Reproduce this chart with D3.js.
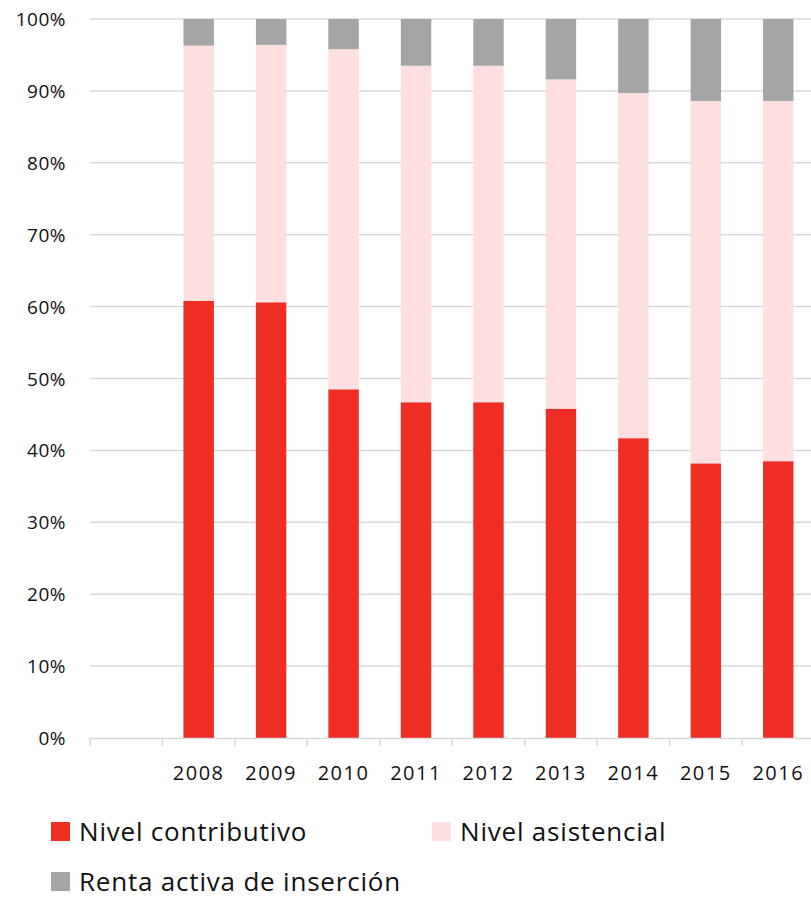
<!DOCTYPE html>
<html>
<head>
<meta charset="utf-8">
<script src="https://cdn.jsdelivr.net/npm/d3@7"></script>
<style>
  body { margin: 0; background: #fff; }
  svg { display: block; font-family: "Open Sans", "Noto Sans", sans-serif; }
</style>
</head>
<body>
<script>
// data
let years = ["", "2008", "2009", "2010", "2011", "2012", "2013", "2014", "2015", "2016"];
let contributivo = [null, 60.8, 60.6, 48.5, 46.7, 46.7, 45.8, 41.7, 38.2, 38.5];
let asistencial = [null, 35.5, 35.8, 47.3, 46.8, 46.8, 45.8, 48.0, 50.4, 50.1];
let renta = [null, 3.7, 3.6, 4.2, 6.5, 6.5, 8.4, 10.3, 11.4, 11.4];
let seriesNames = ["Nivel contributivo", "Nivel asistencial", "Renta activa de inserción"];
let yTicks = [0, 10, 20, 30, 40, 50, 60, 70, 80, 90, 100];

let colors = ["#ee2e24", "#ffdfe0", "#a5a5a5"];

let svg = d3.select("body").append("svg")
    .attr("width", 811)
    .attr("height", 899);

let x = d3.scaleBand()
    .domain(years)
    .range([90, 814.5])
    .paddingInner(0.58)
    .paddingOuter(0.29);

let y = d3.scaleLinear()
    .domain([0, 100])
    .range([738, 19]);

// gridlines
svg.append("g")
    .selectAll("line")
    .data(yTicks.slice(1))
    .join("line")
    .attr("x1", 90)
    .attr("x2", 811)
    .attr("y1", d => y(d))
    .attr("y2", d => y(d))
    .attr("stroke", "#d9d9d9")
    .attr("stroke-width", 1.5);

// y labels
svg.append("g")
    .selectAll("text")
    .data(yTicks)
    .join("text")
    .attr("x", 66)
    .attr("y", d => y(d) + 7)
    .attr("text-anchor", "end")
    .attr("font-size", 19)
    .attr("letter-spacing", 0.5)
    .attr("fill", "#111")
    .text(d => d + "%");

// stacked bars
let rows = years.map((yr, i) => ({
    year: yr,
    a: contributivo[i],
    b: asistencial[i],
    c: renta[i]
})).filter(d => d.a != null);

let stack = d3.stack().keys(["a", "b", "c"]);
let layers = stack(rows);

layers.forEach((layer, k) => {
    svg.append("g")
        .selectAll("rect")
        .data(layer)
        .join("rect")
        .attr("x", d => x(d.data.year))
        .attr("width", x.bandwidth())
        .attr("y", d => y(Math.min(d[1], 100)))
        .attr("height", d => y(d[0]) - y(Math.min(d[1], 100)))
        .attr("fill", colors[k]);
});

// x axis line and ticks
svg.append("line")
    .attr("x1", 90)
    .attr("x2", 811)
    .attr("y1", 738.5)
    .attr("y2", 738.5)
    .attr("stroke", "#d9d9d9")
    .attr("stroke-width", 1.5);

let step = x.step();
let tickXs = years.map((d, i) => 90 + i * step);
svg.append("g")
    .selectAll("line")
    .data(tickXs)
    .join("line")
    .attr("x1", d => d)
    .attr("x2", d => d)
    .attr("y1", 738)
    .attr("y2", 746)
    .attr("stroke", "#d9d9d9")
    .attr("stroke-width", 1.5);

// x labels
svg.append("g")
    .selectAll("text")
    .data(years.filter(d => d !== ""))
    .join("text")
    .attr("x", d => x(d) + x.bandwidth() / 2)
    .attr("y", 780)
    .attr("text-anchor", "middle")
    .attr("font-size", 20)
    .attr("letter-spacing", 1.5)
    .attr("fill", "#111")
    .text(d => d);

// legend
let legendPos = [[51, 822], [432, 822], [51, 872]];
seriesNames.forEach((name, i) => {
    let g = svg.append("g").attr("transform", `translate(${legendPos[i][0]},${legendPos[i][1]})`);
    g.append("rect")
        .attr("width", 19)
        .attr("height", 19)
        .attr("fill", colors[i]);
    g.append("text")
        .attr("x", 28)
        .attr("y", 19)
        .attr("font-size", 26)
        .attr("letter-spacing", 0.8)
        .attr("fill", "#111")
        .text(name);
});
</script>
</body>
</html>
